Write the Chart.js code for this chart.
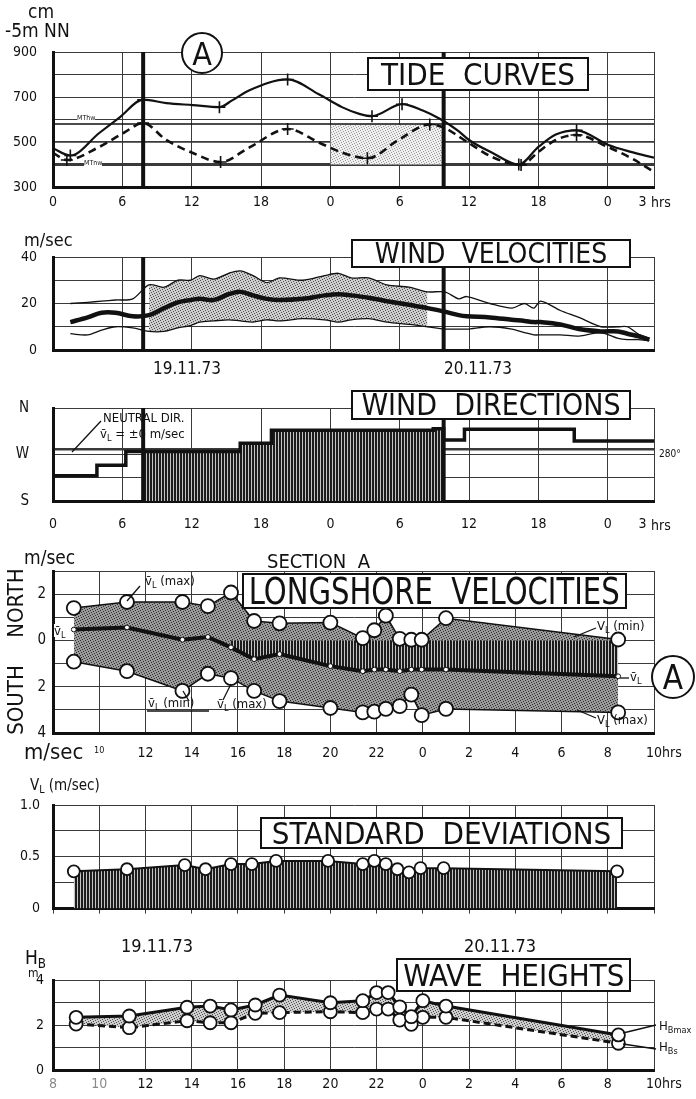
<!DOCTYPE html>
<html>
<head>
<meta charset="utf-8">
<title>Section A - tide, wind, longshore velocities, wave heights</title>
<script src="https://cdn.jsdelivr.net/npm/chart.js@4.4.1/dist/chart.umd.min.js"></script>
<style>
  html, body { margin: 0; background: #fff; overflow: hidden; }
  #page { position: relative; width: 696px; height: 1099px; overflow: hidden;
          font-family: "DejaVu Sans Condensed", "Liberation Sans Narrow", "DejaVu Sans", sans-serif; color: #111; }
  canvas { position: absolute; left: 0; }
  .t { position: absolute; white-space: nowrap; line-height: 1; }
  .c { transform: translateX(-50%); }
  .box { position: absolute; border: 2px solid #111; background: #fff; box-sizing: border-box;
         display: flex; align-items: center; justify-content: center; white-space: nowrap; line-height: 1; }
  .box span { display: inline-block; }
  .w { background: #fff; }
  sub { font-size: 70%; vertical-align: -0.3em; line-height: 0; }
  svg { position: absolute; left: 0; top: 0; pointer-events: none; }
</style>
</head>
<body>
<div id="page">
  <canvas id="tide" width="696" height="215" style="top:0"></canvas>
  <canvas id="wind" width="696" height="160" style="top:215px"></canvas>
  <canvas id="winddir" width="696" height="165" style="top:375px"></canvas>
  <canvas id="lsv" width="696" height="225" style="top:540px"></canvas>
  <canvas id="sd" width="696" height="165" style="top:765px"></canvas>
  <canvas id="wave" width="696" height="169" style="top:930px"></canvas>

  <svg width="696" height="1099">
    <g stroke="#111" stroke-width="1.3" fill="none">
      <line x1="72" y1="452" x2="101" y2="421"/>
      <line x1="140" y1="586" x2="127" y2="601"/>
      <line x1="147" y1="711" x2="209" y2="711"/>
      <line x1="189" y1="701" x2="183" y2="691"/>
      <line x1="223" y1="700" x2="231" y2="684"/>
      <line x1="596" y1="628" x2="574" y2="637"/>
      <line x1="596" y1="718" x2="577" y2="710"/>
      <line x1="620" y1="678" x2="629" y2="678"/>
      <line x1="623" y1="1033" x2="656" y2="1025"/>
      <line x1="623" y1="1044" x2="656" y2="1049"/>
    </g>
    <circle cx="202" cy="53" r="20" fill="#fff" stroke="#111" stroke-width="2"/>
    <text x="202" y="65" font-size="32" text-anchor="middle" font-family="DejaVu Sans Condensed, sans-serif" fill="#111">A</text>
    <circle cx="673" cy="677" r="21" fill="#fff" stroke="#111" stroke-width="2"/>
    <text x="673" y="689" font-size="33" text-anchor="middle" font-family="DejaVu Sans Condensed, sans-serif" fill="#111">A</text>
  </svg>

  <!-- tide curves -->
  <div class="t" style="left:28px;top:2px;font-size:19px">cm</div>
  <div class="t" style="left:5px;top:21px;font-size:19px">-5m NN</div>
  <div class="box" style="left:367px;top:57px;width:222px;height:34px;font-size:31px"><span>TIDE&nbsp;&nbsp;CURVES</span></div>
  <div class="t w" style="left:77px;top:115px;font-size:7px">MThw</div>
  <div class="t w" style="left:84px;top:160px;font-size:7px">MTnw</div>
  <div class="t" style="left:651px;top:195px;font-size:14px">hrs</div>

  <!-- wind velocities -->
  <div class="t" style="left:24px;top:231px;font-size:18px">m/sec</div>
  <div class="box" style="left:351px;top:239px;width:280px;height:29px;font-size:28px"><span>WIND&nbsp;&nbsp;VELOCITIES</span></div>
  <div class="t c" style="left:187px;top:360px;font-size:17px">19.11.73</div>
  <div class="t c" style="left:478px;top:360px;font-size:17px">20.11.73</div>

  <!-- wind directions -->
  <div class="box" style="left:351px;top:390px;width:280px;height:30px;font-size:30px"><span>WIND&nbsp;&nbsp;DIRECTIONS</span></div>
  <div class="t" style="left:103px;top:411px;font-size:13px">NEUTRAL DIR.</div>
  <div class="t" style="left:100px;top:427px;font-size:13px">v&#772;<sub>L</sub> = ±0 m/sec</div>
  <div class="t" style="left:659px;top:449px;font-size:10px">280°</div>
  <div class="t" style="left:651px;top:518px;font-size:14px">hrs</div>

  <!-- longshore velocities -->
  <div class="t" style="left:24px;top:548px;font-size:19px">m/sec</div>
  <div class="t" style="left:267px;top:551px;font-size:20px">SECTION&nbsp;&nbsp;A</div>
  <div class="box" style="left:242px;top:573px;width:385px;height:36px;font-size:37px"><span>LONGSHORE&nbsp;&nbsp;VELOCITIES</span></div>
  <div class="t" style="left:16px;top:603px;font-size:22px;transform:translate(-50%,-50%) rotate(-90deg)">NORTH</div>
  <div class="t" style="left:16px;top:700px;font-size:22px;transform:translate(-50%,-50%) rotate(-90deg)">SOUTH</div>
  <div class="t" style="left:24px;top:741px;font-size:22px">m/sec</div>
  <div class="t" style="left:662px;top:745px;font-size:14px">hrs</div>
  <div class="t" style="left:145px;top:574px;font-size:13px">v&#772;<sub>L</sub> (max)</div>
  <div class="t w" style="left:54px;top:624px;font-size:13px">v&#772;<sub>L</sub></div>
  <div class="t" style="left:148px;top:696px;font-size:13px">v&#772;<sub>L</sub> (min)</div>
  <div class="t" style="left:217px;top:697px;font-size:13px">v&#772;<sub>L</sub> (max)</div>
  <div class="t" style="left:597px;top:619px;font-size:13px">V<sub>L</sub> (min)</div>
  <div class="t" style="left:597px;top:713px;font-size:13px">V<sub>L</sub> (max)</div>
  <div class="t" style="left:630px;top:670px;font-size:13px">v&#772;<sub>L</sub></div>

  <!-- standard deviations -->
  <div class="t" style="left:30px;top:778px;font-size:15px">V<sub>L</sub> (m/sec)</div>
  <div class="box" style="left:260px;top:817px;width:363px;height:32px;font-size:31px"><span>STANDARD&nbsp;&nbsp;DEVIATIONS</span></div>
  <div class="t c" style="left:157px;top:937px;font-size:18px">19.11.73</div>
  <div class="t c" style="left:500px;top:937px;font-size:18px">20.11.73</div>

  <!-- wave heights -->
  <div class="t" style="left:25px;top:948px;font-size:19px">H<sub>B</sub></div>
  <div class="t" style="left:28px;top:967px;font-size:12px">m</div>
  <div class="box" style="left:396px;top:958px;width:235px;height:34px;font-size:31px"><span>WAVE&nbsp;&nbsp;HEIGHTS</span></div>
  <div class="t" style="left:659px;top:1019px;font-size:13px">H<sub>Bmax</sub></div>
  <div class="t" style="left:659px;top:1040px;font-size:13px">H<sub>Bs</sub></div>
  <div class="t" style="left:662px;top:1076px;font-size:14px">hrs</div>
</div>

<script>
// all times in hours counted from 19.11.73 00:00

// tide curves (cm above -5 m NN)
const tideHoursSolid = [0, 1.5, 4, 5.8, 7.8, 9.8, 12.1, 14.4, 15.5, 17, 20.3, 23, 25, 26.5, 27.6, 30.2, 32, 33.5, 35, 36, 38, 40.3, 42, 43.5, 45.3, 48, 50, 52];
const tideSolid      = [472, 440, 540, 611, 688, 673, 664, 655, 685, 730, 778, 712, 655, 625, 615, 668, 640, 602, 552, 509, 452, 400, 478, 533, 552, 488, 456, 430];
const tideHoursDashed = [0, 1.2, 4, 6.1, 7.8, 9.8, 12.1, 14.5, 17, 20.3, 23, 25, 27.2, 30, 32.6, 34, 35, 36, 38, 40.5, 42, 43.5, 45.3, 48, 50, 52];
const tideDashed      = [452, 420, 478, 540, 584, 509, 451, 411, 476, 558, 498, 453, 428, 513, 578, 560, 528, 495, 433, 398, 456, 509, 531, 478, 429, 367];
const tideRefLevel = 580;
const tideShadeHours = [24, 33.8];
const tideShadeTop = 578;
const tideShadeBase = 400;

// start and end of the longshore measurements
const eventHours = [7.8, 33.8];

// wind velocities (m/sec)
const windHours = [1.5, 3, 4.2, 5.4, 6.9, 8.3, 9.6, 10.8, 11.9, 12.7, 13.9, 15.2, 16.2, 17.3, 18.5, 19.6, 21.6, 23.5, 24.7, 25.8, 27.3, 28.9, 30.8, 32.4, 33.9, 35.1, 35.8, 37.8, 39.7, 40.8, 41.6, 42.2, 43.9, 45.5, 47.4, 48.9, 49.7, 50.6, 51.6];
const windMax  = [20, 20.5, 21, 21.5, 22, 28, 27, 30, 30, 32, 30.5, 33, 34, 32, 29, 31, 30, 32, 33, 31, 31, 28, 27, 25, 25, 22, 23, 20, 18, 20, 18, 21, 17, 14, 10, 10, 10, 7, 5];
const windMean = [12, 14, 16, 16, 14.5, 15, 18, 20.5, 21.5, 22, 21.5, 24, 25, 23.5, 22, 21.5, 22, 23.5, 24, 23.5, 22.5, 21, 19.5, 18, 16.5, 15, 14.5, 14, 13, 12.5, 12, 12, 11, 9, 8, 8, 7, 6, 4.5];
const windMin  = [7, 6.5, 8.5, 10, 9.5, 8, 8, 9.5, 10.5, 12, 12.5, 13, 12.5, 12, 13, 12.5, 13.5, 13, 12, 13, 13.5, 12, 11, 10, 9, 9, 9, 10, 9, 7.5, 6.5, 6.5, 6.5, 6, 7.5, 5, 4.5, 4.5, 4];

// wind directions (degrees, step changes)
const windDirHours = [0, 3.8, 6.3, 16.2, 18.9, 32.9, 33.8, 35.6, 45.1, 48.3, 52];
const windDirDeg   = [204, 229, 249, 276, 292, 317, 320, 298, 319, 296, 296];

// longshore velocities (m/sec, north positive)
const lsvHours = [8.9, 11.2, 13.6, 14.7, 15.7, 16.7, 17.8, 20.0, 21.4, 21.9, 22.4, 23.0, 23.5, 23.95, 25.0, 32.45];
const lsvUpper = [1.4, 1.66, 1.66, 1.48, 2.07, 0.84, 0.74, 0.77, 0.1, 0.44, 1.07, 0.07, 0.03, 0.03, 0.96, 0.04];
const lsvMean  = [0.47, 0.56, 0.03, 0.15, -0.3, -0.81, -0.59, -1.11, -1.33, -1.26, -1.26, -1.33, -1.26, -1.26, -1.26, -1.55];
const lsvLower = [-0.92, -1.33, -2.18, -1.44, -1.63, -2.18, -2.62, -2.92, -3.11, -3.08, -2.96, -2.84, -2.34, -3.23, -2.96, -3.11];
const lsvHatchFrom = 15.7;

// standard deviations of v_L (m/sec)
const sdHours  = [8.9, 11.2, 13.7, 14.6, 15.7, 16.6, 17.65, 19.9, 21.4, 21.9, 22.4, 22.9, 23.4, 23.9, 24.9, 32.4];
const sdValues = [0.36, 0.38, 0.42, 0.38, 0.43, 0.43, 0.46, 0.46, 0.43, 0.46, 0.43, 0.38, 0.35, 0.39, 0.39, 0.36];

// wave heights (m)
const waveHours = [9.0, 11.3, 13.8, 14.8, 15.7, 16.75, 17.8, 20.0, 21.4, 22.0, 22.5, 23.0, 23.5, 24.0, 25.0, 32.46];
const waveMax   = [2.34, 2.4, 2.79, 2.84, 2.67, 2.89, 3.33, 2.99, 3.08, 3.44, 3.44, 2.81, 2.37, 3.08, 2.84, 1.56];
const waveSig   = [2.04, 1.88, 2.19, 2.1, 2.1, 2.52, 2.55, 2.59, 2.55, 2.71, 2.71, 2.22, 2.03, 2.34, 2.34, 1.19];

// tick positions
const hourTicks = [0, 6, 12, 18, 24, 30, 36, 42, 48, 51, 52];
const lsvTicks = [8, 10, 12, 14, 16, 18, 20, 22, 24, 26, 28, 30, 32, 34];

const INK = '#111';
const GRID = '#3a3a3a';
const FONT = '"DejaVu Sans Condensed", "Liberation Sans Narrow", "DejaVu Sans", sans-serif';
Chart.defaults.font.family = FONT;
Chart.defaults.color = INK;

function pts(xs, ys) {
  return xs.map((x, i) => ({ x, y: ys[i] }));
}

function vline(h, y0, y1) {
  return { data: [{ x: h, y: y0 }, { x: h, y: y1 }], borderColor: INK, borderWidth: 4, pointRadius: 0 };
}

function extremes(vals) {
  return vals.map((v, i) => i > 0 && i < vals.length - 1 &&
    ((v > vals[i - 1] && v > vals[i + 1]) || (v < vals[i - 1] && v < vals[i + 1])));
}

function circles(r) {
  return { pointStyle: 'circle', pointRadius: r, pointBackgroundColor: '#fff', pointBorderColor: INK, pointBorderWidth: 1.8 };
}

function makePattern(w, h, paint) {
  const c = document.createElement('canvas');
  c.width = w;
  c.height = h;
  const g = c.getContext('2d');
  paint(g);
  return g.createPattern(c, 'repeat');
}

// scattered dots, knight-move layout so no diagonal stripes show
const dotCells = [[0, 0], [3, 1], [1, 2], [4, 3], [2, 4]];
function stipple(bg, dot) {
  return makePattern(5, 5, g => {
    g.fillStyle = bg; g.fillRect(0, 0, 5, 5);
    g.fillStyle = dot;
    dotCells.forEach(([cx, cy]) => g.fillRect(cx, cy, 1, 1));
  });
}

const hatch = makePattern(3, 2, g => {
  g.fillStyle = '#c4c4c4'; g.fillRect(0, 0, 3, 2);
  g.fillStyle = '#1c1c1c'; g.fillRect(0, 0, 2, 2);
});
const stippleLight = stipple('#efefef', '#9a9a9a');
const stippleMid = stipple('#cdcdcd', '#505050');
const stippleDark = stipple('#9a9a9a', '#2e2e2e');

function panel(id, o) {
  const x = o.x, y = o.y;
  return new Chart(document.getElementById(id), {
    type: 'line',
    data: { datasets: o.datasets },
    options: {
      responsive: false,
      animation: false,
      events: [],
      layout: { padding: { top: o.top, right: 42, bottom: 0, left: 0 } },
      plugins: {
        legend: { display: false },
        tooltip: { enabled: false },
        filler: { drawTime: 'beforeDatasetsDraw' }
      },
      elements: { point: { radius: 0 }, line: { borderColor: INK, fill: false } },
      scales: {
        x: {
          type: 'linear', min: x.min, max: x.max,
          afterBuildTicks: s => { s.ticks = x.ticks.map(v => ({ value: v })); },
          afterFit: s => { s.height = x.height; },
          ticks: {
            display: !!x.label, callback: x.label || (() => ''),
            autoSkip: false, maxRotation: 0, padding: x.pad || 6,
            font: x.font || { size: 14 }, color: x.color || INK
          },
          grid: {
            color: x.gridColor || GRID, lineWidth: x.gridWidth || 1,
            drawTicks: !!x.tickLength, tickLength: x.tickLength || 0
          },
          border: { color: INK, width: 3 }
        },
        y: {
          min: y.min, max: y.max,
          afterBuildTicks: s => { s.ticks = y.ticks.map(v => ({ value: v })); },
          afterFit: s => { s.width = 53; },
          ticks: { callback: y.label, padding: y.pad || 6, font: y.font || { size: 14 }, color: INK },
          grid: { color: y.gridColor || GRID, lineWidth: y.gridWidth || 1, drawTicks: false },
          border: { color: INK, width: 3 }
        }
      }
    }
  });
}

const hourAxis = (extra) => Object.assign({
  min: 0, max: 52, ticks: hourTicks,
  label: v => v === 52 ? '' : String(v % 24),
  gridColor: ctx => ctx.tick && ctx.tick.value === 51 ? 'rgba(0,0,0,0)' : GRID
}, extra);

// TIDE CURVES
panel('tide', {
  top: 52,
  x: hourAxis({ height: 28, pad: 7 }),
  y: {
    min: 300, max: 900, ticks: [300, 400, 500, 600, 700, 800, 900], pad: 16,
    label: v => (v - 300) % 200 === 0 ? String(v) : '',
    gridWidth: ctx => { const v = ctx.tick && ctx.tick.value; return v === 400 ? 3 : v === 500 ? 1.8 : 1; }
  },
  datasets: [
    { data: pts(tideHoursSolid, tideSolid), borderWidth: 2.2, cubicInterpolationMode: 'monotone',
      pointStyle: 'cross', pointRadius: extremes(tideSolid).map(f => f ? 6 : 0), pointBorderColor: INK, pointBorderWidth: 1.6 },
    { data: pts(tideHoursDashed, tideDashed), borderWidth: 2.6, borderDash: [8, 5], cubicInterpolationMode: 'monotone',
      pointStyle: 'cross', pointRadius: extremes(tideDashed).map(f => f ? 6 : 0), pointBorderColor: INK, pointBorderWidth: 1.6 },
    ...eventHours.map(h => vline(h, 300, 900)),
    { data: pts([0, 52], [tideRefLevel, tideRefLevel]), borderWidth: 1.6 },
    { data: pts(tideShadeHours, tideShadeHours.map(() => tideShadeTop)), borderWidth: 0,
      fill: { value: tideShadeBase }, backgroundColor: stippleLight }
  ]
});

// WIND VELOCITIES
const inEvent = p => p.x >= eventHours[0] && p.x <= eventHours[1];
panel('wind', {
  top: 42,
  x: hourAxis({ height: 25, label: null }),
  y: { min: 0, max: 40, ticks: [0, 10, 20, 30, 40], pad: 16, label: v => v % 20 === 0 ? String(v) : '' },
  datasets: [
    { data: pts(windHours, windMean), borderWidth: 4.5, tension: 0.35 },
    { data: pts(windHours, windMax), borderWidth: 1.3, tension: 0.3 },
    { data: pts(windHours, windMin), borderWidth: 1.3, tension: 0.3 },
    ...eventHours.map(h => vline(h, 0, 40)),
    { data: pts(windHours, windMax).filter(inEvent), borderWidth: 0, tension: 0.3, fill: '+1', backgroundColor: stippleMid },
    { data: pts(windHours, windMin).filter(inEvent), borderWidth: 0, tension: 0.3 }
  ]
});

// WIND DIRECTIONS
const stepAt = h => {
  let v = windDirDeg[0];
  windDirHours.forEach((t, i) => { if (t <= h) v = windDirDeg[i]; });
  return v;
};
const dirHatch = [
  { x: eventHours[0], y: stepAt(eventHours[0]) },
  ...pts(windDirHours, windDirDeg).filter(p => p.x > eventHours[0] && p.x < eventHours[1]),
  { x: eventHours[1], y: stepAt(eventHours[1]) }
];
const dirNames = { 180: 'S', 270: 'W', 360: 'N' };
panel('winddir', {
  top: 33,
  x: hourAxis({ height: 39, pad: 15 }),
  y: {
    min: 180, max: 360, ticks: [180, 225, 270, 280, 360], pad: 24, font: { size: 15 },
    label: v => dirNames[v] || '',
    gridWidth: ctx => ctx.tick && ctx.tick.value === 280 ? 2.5 : 1
  },
  datasets: [
    { data: pts(windDirHours, windDirDeg), stepped: 'after', borderWidth: 3.5 },
    ...eventHours.map(h => vline(h, 180, 360)),
    { data: dirHatch, stepped: 'after', borderWidth: 0, fill: 'start', backgroundColor: hatch }
  ]
});

// LONGSHORE VELOCITIES
panel('lsv', {
  top: 31,
  x: {
    min: 8, max: 34, ticks: lsvTicks, height: 32, pad: 12,
    label: v => v === 8 ? '' : String(v % 24),
    font: ctx => ({ size: ctx.tick && ctx.tick.value === 10 ? 9 : 14 })
  },
  y: {
    min: -4, max: 3, ticks: [-4, -3, -2, -1, 0, 1, 2, 3], pad: 7, font: { size: 15 },
    label: v => v % 2 === 0 ? String(Math.abs(v)) : ''
  },
  datasets: [
    { data: pts(lsvHours, lsvMean), borderWidth: 4, pointRadius: 2.4, pointBackgroundColor: '#fff',
      pointBorderColor: INK, pointBorderWidth: 1 },
    { data: pts(lsvHours, lsvMean).filter(p => p.x >= lsvHatchFrom), borderWidth: 0,
      fill: { value: 0 }, backgroundColor: hatch },
    { data: pts(lsvHours, lsvUpper), borderWidth: 1.5, ...circles(7), fill: '+1', backgroundColor: stippleDark },
    { data: pts(lsvHours, lsvLower), borderWidth: 1.5, ...circles(7) }
  ]
});

// STANDARD DEVIATIONS
panel('sd', {
  top: 40,
  x: { min: 8, max: 34, ticks: lsvTicks, height: 12, label: null, tickLength: 5 },
  y: {
    min: 0, max: 1, ticks: [0, 0.25, 0.5, 0.75, 1], pad: 13,
    label: v => ({ 0: '0', 0.5: '0.5', 1: '1.0' })[v] || ''
  },
  datasets: [
    { data: pts(sdHours, sdValues), borderWidth: 2, ...circles(6), fill: 'origin', backgroundColor: hatch }
  ]
});

// WAVE HEIGHTS
panel('wave', {
  top: 50,
  x: {
    min: 8, max: 34, ticks: lsvTicks, height: 29, pad: 6,
    label: v => String(v % 24),
    color: ctx => ctx.tick && ctx.tick.value <= 10 ? '#8a8a8a' : INK
  },
  y: { min: 0, max: 4, ticks: [0, 1, 2, 3, 4], pad: 9, label: v => v % 2 === 0 ? String(v) : '' },
  datasets: [
    { data: pts(waveHours, waveMax), borderWidth: 3, ...circles(6.5), fill: '+1', backgroundColor: stippleMid },
    { data: pts(waveHours, waveSig), borderWidth: 3, borderDash: [7, 4], ...circles(6.5) }
  ]
});

// squeeze the boxed titles to the width of their frames
document.querySelectorAll('.box span').forEach(s => {
  const room = s.parentElement.clientWidth - 10;
  const w = s.getBoundingClientRect().width;
  if (w > room) s.style.transform = 'scaleX(' + (room / w).toFixed(3) + ')';
});
</script>
</body>
</html>
